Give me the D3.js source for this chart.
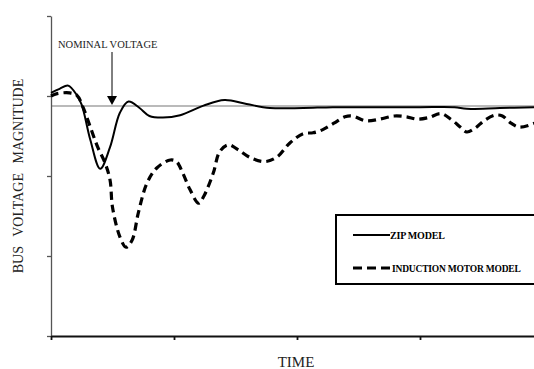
<!DOCTYPE html>
<html>
<head>
<meta charset="utf-8">
<script src="https://cdn.jsdelivr.net/npm/d3@7"></script>
<style>
  body { margin: 0; background: #fff; }
  svg { display: block; font-family: "Liberation Serif", "Times New Roman", serif; }
</style>
</head>
<body>
<svg id="chart" width="534" height="369"></svg>
<script>
// time axis (one unit = one tick interval), voltage in tick intervals
var xTicks = [0, 1, 2, 3];
var yTicks = [0, 1, 2, 3, 4];
var nominalVoltage = 2.875;

var zipTime = [0, 0.07, 0.14, 0.21, 0.25, 0.32, 0.40, 0.48, 0.56, 0.63, 0.72, 0.80, 0.91, 1.05, 1.24, 1.41, 1.59, 1.78, 2.05, 2.29, 2.67, 3.00, 3.28, 3.38, 3.65, 3.93];
var zipVolt = [3.04, 3.09, 3.13, 3.01, 2.89, 2.45, 2.09, 2.36, 2.79, 2.93, 2.85, 2.75, 2.73, 2.76, 2.88, 2.95, 2.90, 2.85, 2.85, 2.86, 2.86, 2.86, 2.86, 2.84, 2.85, 2.86];

var imTime = [0, 0.05, 0.15, 0.21, 0.26, 0.32, 0.38, 0.44, 0.48, 0.50, 0.56, 0.61, 0.66, 0.71, 0.78, 0.86, 0.97, 1.02, 1.07, 1.13, 1.20, 1.24, 1.32, 1.37, 1.44, 1.52, 1.62, 1.74, 1.84, 1.94, 2.05, 2.13, 2.21, 2.30, 2.39, 2.45, 2.56, 2.67, 2.79, 2.89, 2.98, 3.07, 3.17, 3.25, 3.33, 3.38, 3.45, 3.52, 3.61, 3.67, 3.74, 3.81, 3.93];
var imVolt = [3.00, 3.03, 3.04, 3.01, 2.86, 2.61, 2.36, 2.16, 1.95, 1.61, 1.24, 1.11, 1.20, 1.54, 1.91, 2.10, 2.20, 2.18, 2.04, 1.83, 1.66, 1.74, 2.04, 2.30, 2.39, 2.33, 2.23, 2.18, 2.24, 2.41, 2.53, 2.54, 2.58, 2.66, 2.74, 2.75, 2.69, 2.71, 2.75, 2.74, 2.71, 2.73, 2.78, 2.71, 2.61, 2.55, 2.60, 2.69, 2.76, 2.75, 2.66, 2.61, 2.66];

var seriesNames = ["ZIP MODEL", "INDUCTION MOTOR MODEL"];

var svg = d3.select("#chart");

var x = d3.scaleLinear().domain([0, 4]).range([51, 543]);
var y = d3.scaleLinear().domain([0, 4]).range([336, 16]);

// nominal voltage reference
svg.append("line")
    .attr("x1", x(0)).attr("x2", 534)
    .attr("y1", y(nominalVoltage)).attr("y2", y(nominalVoltage))
    .style("stroke", "#777").style("stroke-width", 1.2);

// axes
var yAxis = svg.append("g")
    .attr("transform", "translate(" + x(0) + ",0)")
    .call(d3.axisLeft(y).tickValues(yTicks).tickSize(4).tickSizeOuter(0).tickFormat(""));
yAxis.selectAll("path, line").style("stroke", "#555").style("stroke-width", 1.3);

var xAxis = svg.append("g")
    .attr("transform", "translate(0," + y(0) + ")")
    .call(d3.axisBottom(x).tickValues(xTicks).tickSize(4).tickSizeOuter(0).tickFormat(""));
xAxis.selectAll("path, line").style("stroke", "#111").style("stroke-width", 1.8);

function toPoints(ts, vs) {
    return ts.map(function (t, i) { return [t, vs[i]]; });
}

var line = d3.line()
    .x(function (d) { return x(d[0]); })
    .y(function (d) { return y(d[1]); })
    .curve(d3.curveCatmullRom.alpha(0.5));

svg.append("path")
    .datum(toPoints(zipTime, zipVolt))
    .attr("d", line)
    .style("fill", "none").style("stroke", "#000").style("stroke-width", 2);

svg.append("path")
    .datum(toPoints(imTime, imVolt))
    .attr("d", line)
    .style("fill", "none").style("stroke", "#000").style("stroke-width", 3.2)
    .style("stroke-dasharray", "8,5");

// annotation
svg.append("text")
    .attr("x", 58).attr("y", 48)
    .style("font-size", "10.5px")
    .style("fill", "#222")
    .text("NOMINAL VOLTAGE");

svg.append("line")
    .attr("x1", 112).attr("x2", 112)
    .attr("y1", 52).attr("y2", 97)
    .style("stroke", "#000").style("stroke-width", 1);
svg.append("path")
    .attr("d", "M107,96 L117,96 L112,105 Z")
    .style("fill", "#000");

// axis titles
svg.append("text")
    .attr("transform", "translate(23,176) rotate(-90)")
    .attr("text-anchor", "middle")
    .style("font-size", "14px")
    .style("word-spacing", "6px")
    .style("fill", "#222")
    .text("BUS VOLTAGE MAGNITUDE");

svg.append("text")
    .attr("x", 296).attr("y", 367)
    .attr("text-anchor", "middle")
    .style("font-size", "15px")
    .style("fill", "#222")
    .text("TIME");

// legend
var legend = svg.append("g");
legend.append("rect")
    .attr("x", 336).attr("y", 215)
    .attr("width", 210).attr("height", 69)
    .style("fill", "#fff").style("stroke", "#000").style("stroke-width", 2);

var legendY = [235, 268];
legendY.forEach(function (ly, i) {
    legend.append("line")
        .attr("x1", 353).attr("x2", 390)
        .attr("y1", ly).attr("y2", ly)
        .style("stroke", "#000")
        .style("stroke-width", i === 0 ? 2 : 3.2)
        .style("stroke-dasharray", i === 0 ? null : "9,5");
    legend.append("text")
        .attr("x", i === 0 ? 390 : 392).attr("y", ly + 3.5)
        .style("font-size", i === 0 ? "10px" : "9.5px")
        .style("font-weight", "bold")
        .style("letter-spacing", "-0.2px")
        .text(seriesNames[i]);
});
</script>
</body>
</html>
